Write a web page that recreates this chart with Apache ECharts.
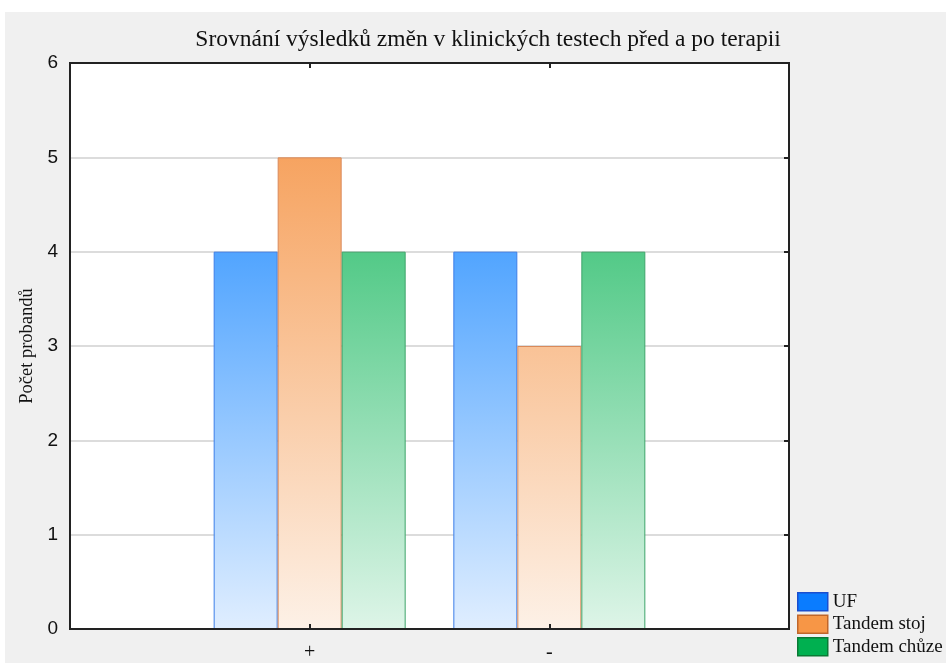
<!DOCTYPE html>
<html>
<head>
<meta charset="utf-8">
<script src="https://cdn.jsdelivr.net/npm/echarts@6/dist/echarts.min.js"></script>
<style>
  html, body { margin: 0; padding: 0; background: #fff; }
  #chart { width: 946px; height: 663px; }
</style>
</head>
<body>
<div id="chart"></div>
<script>
// categories sit at x = 1 and 2 on a 0..3 axis
var categories = ['+', '-'];
var catPos = [1, 2];
var tickLabels = ['', '+', '-', ''];
var uf = [4, 4];
var tandemStoj = [5, 3];
var tandemChuze = [4, 4];

var serif = 'Liberation Serif';

function pairs(vals) {
  return vals.map(function (v, i) { return [catPos[i], v]; });
}

// gradient runs over the whole plot height (6 -> 0), like the original
function grad(top, bottom) {
  return {
    type: 'linear', x: 0, y: 63, x2: 0, y2: 630, global: true,
    colorStops: [{ offset: 0, color: top }, { offset: 1, color: bottom }]
  };
}

// frame axis with inward ticks only
function frameX(pos) {
  return {
    type: 'value', position: pos, min: 0, max: 3, interval: 1, z: 10,
    axisLine: { show: true, onZero: false, lineStyle: { color: '#222', width: 2 } },
    axisTick: { show: true, inside: true, length: 5, lineStyle: { color: '#222', width: 2 } },
    splitLine: { show: false },
    axisLabel: { show: false }
  };
}

var chart = echarts.init(document.getElementById('chart'));

var option = {
  backgroundColor: '#f0f0f0',
  animation: false,
  graphic: [
    { type: 'rect', left: 0, top: 0, shape: { width: 946, height: 12 }, style: { fill: '#fff' } },
    { type: 'rect', left: 0, top: 0, shape: { width: 5, height: 663 }, style: { fill: '#fff' } }
  ],
  title: {
    text: 'Srovnání výsledků změn v klinických testech před a po terapii',
    left: 483,
    textAlign: 'center',
    top: 23,
    textStyle: { fontFamily: serif, fontWeight: 'normal', fontSize: 23.5, color: '#111' }
  },
  grid: {
    left: 70, right: 157, top: 63, bottom: 33,
    show: true, backgroundColor: '#fff', borderColor: '#222', borderWidth: 2
  },
  legend: {
    orient: 'vertical',
    left: 797, top: 592,
    padding: 0,
    icon: 'rect',
    itemWidth: 30, itemHeight: 18, itemGap: 3,
    textStyle: { fontFamily: serif, fontSize: 19, color: '#111' },
    data: [
      { name: 'UF', itemStyle: { color: '#0a7cff', borderColor: '#1a4fcf', borderWidth: 1.5 } },
      { name: 'Tandem stoj', itemStyle: { color: '#f79646', borderColor: '#c0662a', borderWidth: 1.5 } },
      { name: 'Tandem chůze', itemStyle: { color: '#00b050', borderColor: '#0a7a35', borderWidth: 1.5 } }
    ]
  },
  xAxis: [
    {
      type: 'value', min: 0, max: 3, interval: 1,
      axisLine: { show: true, lineStyle: { color: '#222', width: 2 } },
      axisTick: { show: false },
      splitLine: { show: false },
      axisLabel: {
        margin: 14,
        fontFamily: serif, fontSize: 20, color: '#111',
        formatter: function (v) { return tickLabels[Math.round(v)] || ''; }
      }
    },
    frameX('top'),
    frameX('bottom')
  ],
  yAxis: [
    {
      type: 'value', min: 0, max: 6, interval: 1,
      name: 'Počet probandů',
      nameLocation: 'middle',
      nameGap: 31,
      nameTextStyle: { fontFamily: serif, fontSize: 18.5, color: '#111' },
      axisLine: { show: true, lineStyle: { color: '#222', width: 2 } },
      axisTick: { show: false },
      splitLine: { show: true, lineStyle: { color: '#dcdcdc', width: 2 } },
      axisLabel: { margin: 12, fontFamily: 'Liberation Sans', fontSize: 19, color: '#111' }
    },
    {
      type: 'value', position: 'right', min: 0, max: 6, interval: 1, z: 10,
      axisLine: { show: true, onZero: false, lineStyle: { color: '#222', width: 2 } },
      axisTick: { show: true, inside: true, length: 5, lineStyle: { color: '#222', width: 2 } },
      splitLine: { show: false },
      axisLabel: { show: false }
    }
  ],
  series: [
    {
      name: 'UF', type: 'bar', barWidth: 64, barGap: '0%', z: 1,
      itemStyle: { color: grad('#0a80ff', '#e0eeff'), borderColor: '#3c7ee8', borderWidth: 1 },
      data: pairs(uf)
    },
    {
      name: 'Tandem stoj', type: 'bar', barWidth: 64, barGap: '0%', z: 1,
      itemStyle: { color: grad('#f59446', '#fdf1e7'), borderColor: '#d9895a', borderWidth: 1 },
      data: pairs(tandemStoj)
    },
    {
      name: 'Tandem chůze', type: 'bar', barWidth: 64, barGap: '0%', z: 1,
      itemStyle: { color: grad('#0db457', '#def5e8'), borderColor: '#3ea56a', borderWidth: 1 },
      data: pairs(tandemChuze)
    }
  ]
};

chart.setOption(option);
</script>
</body>
</html>
